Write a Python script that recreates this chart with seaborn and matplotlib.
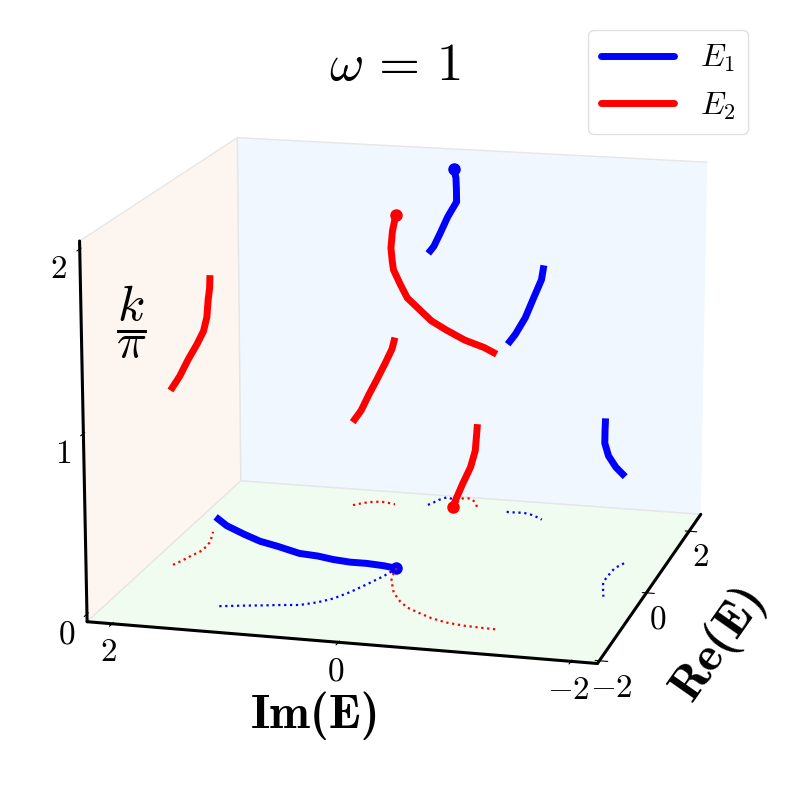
import numpy as np
import matplotlib
matplotlib.use('Agg')
import matplotlib.pyplot as plt
from matplotlib.lines import Line2D
import seaborn as sns

sns.set_style('white')
plt.rcParams['mathtext.fontset'] = 'cm'
plt.rcParams['font.family'] = ['DejaVu Sans']
for key in ['text.color', 'axes.labelcolor', 'xtick.color', 'ytick.color']:
    plt.rcParams[key] = 'black'

# ---- data: k/pi in four quarters, Re(E), Im(E) ----
E1_q1_k = [0.00, 0.06, 0.12, 0.17, 0.22, 0.26, 0.29, 0.33, 0.36, 0.40, 0.45, 0.50]
E1_q1_re = [-0.07, -0.33, -0.61, -0.87, -1.09, -1.23, -1.35, -1.40, -1.45, -1.49, -1.54, -1.57]
E1_q1_im = [0.01, 0.06, 0.14, 0.22, 0.31, 0.41, 0.54, 0.72, 0.86, 0.99, 1.13, 1.22]

E1_q2_k = [0.50, 0.58, 0.69, 0.79, 0.90, 1.00]
E1_q2_re = [0.61, 0.44, 0.16, -0.01, -0.25, -0.43]
E1_q2_im = [-1.90, -1.85, -1.84, -1.84, -1.89, -1.93]

E1_q3_k = [1.00, 1.06, 1.16, 1.29, 1.41, 1.50]
E1_q3_re = [1.96, 1.96, 1.97, 1.92, 1.83, 1.79]
E1_q3_im = [-0.52, -0.59, -0.68, -0.77, -0.86, -0.89]

E1_q4_k = [1.50, 1.53, 1.59, 1.68, 1.78, 1.86, 1.93, 2.00]
E1_q4_re = [2.00, 2.09, 2.20, 2.30, 2.23, 2.22, 2.16, 2.00]
E1_q4_im = [0.24, 0.21, 0.18, 0.13, 0.03, 0.03, 0.02, 0.00]

E2_q1_k = [0.00, 0.03, 0.09, 0.19, 0.31, 0.41, 0.50]
E2_q1_re = [2.00, 2.14, 2.30, 2.32, 2.21, 2.13, 2.04]
E2_q1_im = [0.00, 0.00, -0.02, -0.09, -0.16, -0.19, -0.22]

E2_q2_k = [0.50, 0.56, 0.65, 0.74, 0.83, 0.93, 1.00]
E2_q2_re = [1.81, 1.89, 1.95, 1.98, 1.99, 1.95, 1.94]
E2_q2_im = [0.91, 0.85, 0.79, 0.72, 0.65, 0.57, 0.54]

E2_q3_k = [1.00, 1.06, 1.13, 1.20, 1.25, 1.31, 1.39, 1.44, 1.50]
E2_q3_re = [-0.48, -0.33, -0.18, -0.03, 0.14, 0.28, 0.39, 0.54, 0.62]
E2_q3_im = [1.95, 1.91, 1.88, 1.84, 1.83, 1.84, 1.86, 1.89, 1.91]

E2_q4_k = [1.50, 1.53, 1.56, 1.60, 1.63, 1.67, 1.71, 1.76, 1.80, 1.82, 1.87, 1.94, 1.98, 2.00]
E2_q4_re = [-1.59, -1.58, -1.56, -1.51, -1.42, -1.31, -1.18, -1.03, -0.79, -0.60, -0.45, -0.28, -0.17, -0.07]
E2_q4_im = [-1.24, -1.13, -0.96, -0.79, -0.64, -0.51, -0.37, -0.27, -0.15, -0.09, -0.04, -0.01, 0.00, 0.01]

band_labels = [r'$E_1$', r'$E_2$']
band_colors = ['blue', 'red']
title_text = r'$\omega\,=\,1$'
re_label = 'Re(E)'
im_label = 'Im(E)'
k_label = r'$\dfrac{k}{\pi}$'
re_ticks = [-2, 0, 2]
im_ticks = [-2, 0, 2]
k_ticks = [0, 1, 2]

E1_segments = [(E1_q1_re, E1_q1_im, E1_q1_k), (E1_q2_re, E1_q2_im, E1_q2_k),
               (E1_q3_re, E1_q3_im, E1_q3_k), (E1_q4_re, E1_q4_im, E1_q4_k)]
E2_segments = [(E2_q1_re, E2_q1_im, E2_q1_k), (E2_q2_re, E2_q2_im, E2_q2_k),
               (E2_q3_re, E2_q3_im, E2_q3_k), (E2_q4_re, E2_q4_im, E2_q4_k)]

fig = plt.figure(figsize=(7.92, 7.92), dpi=100)
ax = fig.add_axes([0.001, 0.0016, 0.9978, 0.9978], projection='3d')

for segs, col in zip([E1_segments, E2_segments], band_colors):
    for re, im, k in segs:
        ax.plot(re, im, k, color=col, lw=5, solid_capstyle='butt', solid_joinstyle='round')
        ax.plot(re, im, np.zeros(len(k)), color=col, lw=1.6, ls=':')
    ax.plot([segs[0][0][0]], [segs[0][1][0]], [segs[0][2][0]], 'o', color=col, ms=8)
    ax.plot([segs[-1][0][-1]], [segs[-1][1][-1]], [segs[-1][2][-1]], 'o', color=col, ms=8)

ax.set_xlim(-2.077, 2.583)
ax.set_ylim(-2.224, 2.224)
ax.set_zlim(-0.043, 2.043)
ax.set_box_aspect((4.064, 4, 2.991))
ax.view_init(elev=14.65, azim=-165.31)

ax.set_xticks(re_ticks)
ax.set_xticklabels([r'$%d$' % v for v in re_ticks])
ax.set_yticks(im_ticks)
ax.set_yticklabels([r'$%d$' % v for v in im_ticks])
ax.set_zticks(k_ticks)
ax.set_zticklabels([r'$%d$' % v for v in k_ticks])
ax.tick_params(labelsize=24)
ax.tick_params(axis='x', pad=-1)
ax.tick_params(axis='y', pad=-1.5)
ax.tick_params(axis='z', pad=1)
ax.grid(False)

pane_cols = [(0.945, 0.968, 0.995), (0.992, 0.965, 0.941), (0.945, 0.988, 0.941)]
for axis, pc in zip([ax.xaxis, ax.yaxis, ax.zaxis], pane_cols):
    axis.set_pane_color(pc)
    axis.pane.set_edgecolor((0.9, 0.9, 0.9))
    axis.line.set_color('black')
    axis.line.set_linewidth(2.2)

fig.text(0.499, 1 - 65 / 792, title_text, fontsize=38, ha='center', va='center')
fig.text(316 / 792, 1 - 716 / 792, im_label, family='cmb10', fontsize=35, ha='center', va='center')
fig.text(719 / 792, 1 - 643 / 792, re_label, family='cmb10', fontsize=35, ha='center', va='center',
         rotation=55)
fig.text(131 / 792, 1 - 322 / 792, k_label, fontsize=36, ha='center', va='center')

handles = [Line2D([0], [0], color=c, lw=5) for c in band_colors]
fig.legend(handles, band_labels, loc='upper right', bbox_to_anchor=(748 / 792, 1 - 30 / 792),
           bbox_transform=fig.transFigure, borderaxespad=0, fontsize=23, handlelength=2.3,
           frameon=True, fancybox=True, edgecolor=(0.85, 0.85, 0.85))

fig.savefig('out.png', dpi=100)
